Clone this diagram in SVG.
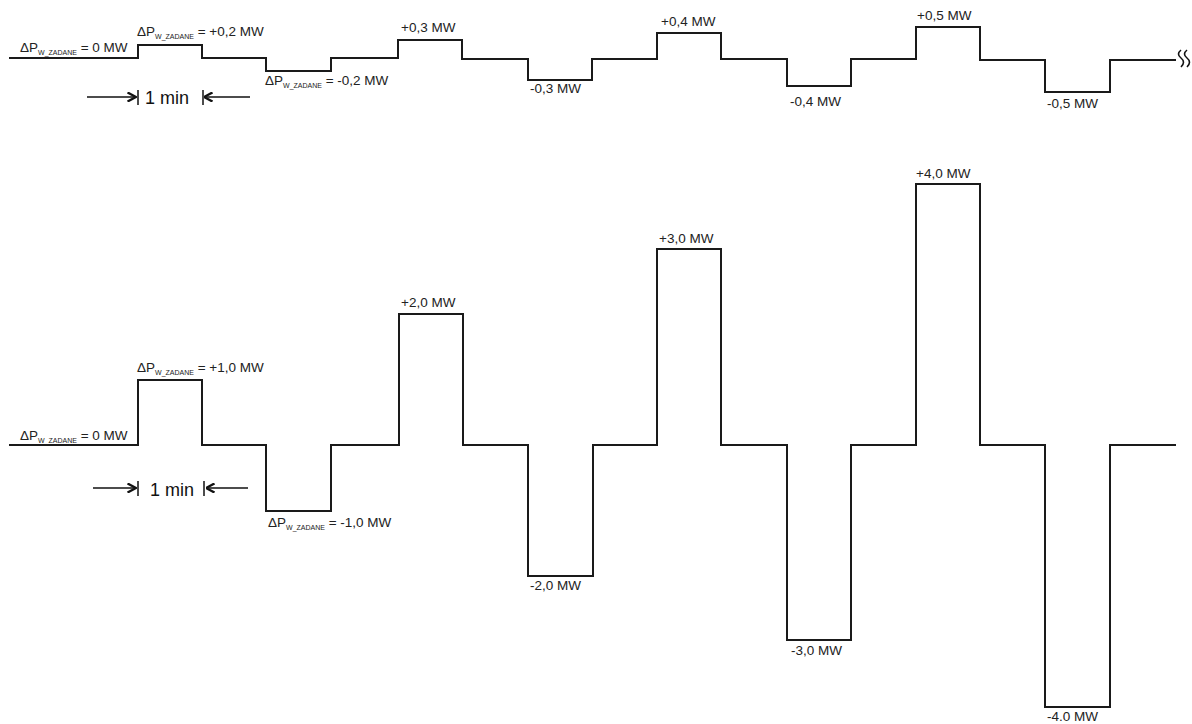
<svg xmlns="http://www.w3.org/2000/svg" width="1192" height="724" viewBox="0 0 1192 724">
<style>
.w{fill:none;stroke:#1a1a1a;stroke-width:2;stroke-linejoin:miter}
.t{font-family:"Liberation Sans",Arial,sans-serif;font-size:13.5px;fill:#222}
.s{font-size:7px}
.m{font-family:"Liberation Sans",Arial,sans-serif;font-size:18px;fill:#111}
.a{fill:none;stroke:#111;stroke-width:1.5}
.k{fill:none;stroke:#111;stroke-width:1.6}
</style>
<defs>
<marker id="ah" viewBox="0 0 10 10" refX="9.5" refY="5" markerWidth="10" markerHeight="10" markerUnits="userSpaceOnUse" orient="auto">
<path d="M1,0.5 L9.5,5 L1,9.5" fill="none" stroke="#111" stroke-width="2.4"/>
</marker>
</defs>
<rect width="1192" height="724" fill="#fff"/>
<g id="connectors">
<path id="wave-top" class="w" d="M9,58 H138 V45 H202 V58 H266 V71 H331 V58 H398 V40 H462 V59 H528 V80 H592 V59 H657 V33 H721 V59 H787 V86 H851 V59 H916 V27 H980 V60 H1045 V92 H1110 V60 H1176"/>
<path id="wave-bottom" class="w" d="M9,445 H138 V380 H202 V445 H266 V511 H331 V445 H399 V314 H463 V445 H528 V576 H593 V445 H657 V249 H721 V445 H787 V640 H851 V445 H916 V184 H980 V445 H1045 V707 H1110 V445 H1176"/>
<path id="break" class="k" d="M1181,50 q-5,4 0,8 q5,4 0,9 M1187,50 q-5,4 0,8 q5,4 0,9"/>
<g id="dim-top">
<line class="a" x1="87" y1="97" x2="136" y2="97" marker-end="url(#ah)"/>
<line class="a" x1="138" y1="90" x2="138" y2="105"/>
<line class="a" x1="250" y1="97" x2="204" y2="97" marker-end="url(#ah)"/>
<line class="a" x1="203" y1="90" x2="203" y2="105"/>
</g>
<g id="dim-bottom">
<line class="a" x1="93" y1="488" x2="136" y2="488" marker-end="url(#ah)"/>
<line class="a" x1="138" y1="481" x2="138" y2="496"/>
<line class="a" x1="248" y1="488" x2="206" y2="488" marker-end="url(#ah)"/>
<line class="a" x1="204" y1="481" x2="204" y2="496"/>
</g>
</g>
<g id="labels-top">
<text class="t" x="20" y="52">ΔP<tspan class="s" dy="3">W_ZADANE</tspan><tspan dy="-3"> = 0 MW</tspan></text>
<text class="t" x="137" y="36">ΔP<tspan class="s" dy="3">W_ZADANE</tspan><tspan dy="-3"> = +0,2 MW</tspan></text>
<text class="t" x="265" y="85">ΔP<tspan class="s" dy="3">W_ZADANE</tspan><tspan dy="-3"> = -0,2 MW</tspan></text>
<text class="t" x="401" y="32">+0,3 MW</text>
<text class="t" x="530" y="93">-0,3 MW</text>
<text class="t" x="661" y="26">+0,4 MW</text>
<text class="t" x="790" y="106">-0,4 MW</text>
<text class="t" x="917" y="20">+0,5 MW</text>
<text class="t" x="1047" y="108">-0,5 MW</text>
<text class="m" x="145" y="104">1 min</text>
</g>
<g id="labels-bottom">
<text class="t" x="20" y="440">ΔP<tspan class="s" dy="3">W_ZADANE</tspan><tspan dy="-3"> = 0 MW</tspan></text>
<text class="t" x="137" y="372">ΔP<tspan class="s" dy="3">W_ZADANE</tspan><tspan dy="-3"> = +1,0 MW</tspan></text>
<text class="t" x="268" y="527">ΔP<tspan class="s" dy="3">W_ZADANE</tspan><tspan dy="-3"> = -1,0 MW</tspan></text>
<text class="t" x="401" y="307">+2,0 MW</text>
<text class="t" x="530" y="590">-2,0 MW</text>
<text class="t" x="659" y="243">+3,0 MW</text>
<text class="t" x="791" y="655">-3,0 MW</text>
<text class="t" x="916" y="178">+4,0 MW</text>
<text class="t" x="1047" y="721">-4.0 MW</text>
<text class="m" x="150" y="496">1 min</text>
</g>
</svg>
